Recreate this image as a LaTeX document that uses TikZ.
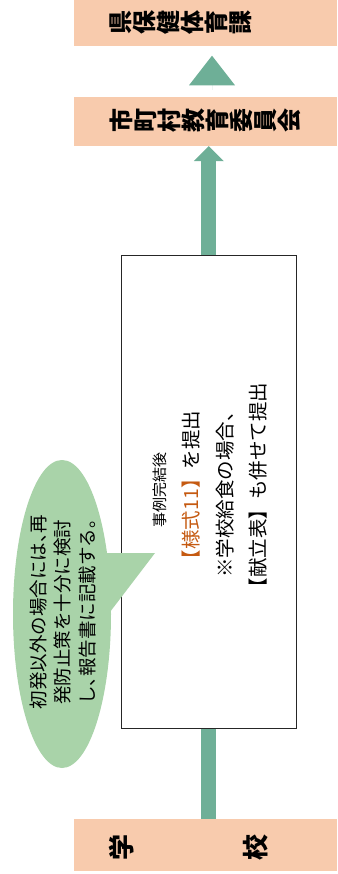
\documentclass[tikz,border=0pt]{standalone}
\usepackage{fontspec}
\setmainfont{Noto Sans CJK JP}
\usetikzlibrary{arrows.meta,shapes.geometric}
\definecolor{peach}{HTML}{F8CBAD}
\definecolor{arrowgreen}{HTML}{6EAF97}
\definecolor{balloongreen}{HTML}{A9D3A9}
\definecolor{formorange}{HTML}{C55A11}
\newcommand{\halfpunct}[1]{{\addfontfeature{RawFeature=+halt}#1}}
\begin{document}
\begin{tikzpicture}[x=1pt,y=-1pt,
  pbox/.style={fill=peach, draw=none, minimum width=263pt, inner sep=0pt, anchor=north west},
  boxtext/.style={rotate=90, align=center, inner sep=0pt, font=\bfseries\fontsize{24pt}{24pt}\selectfont},
  schooltext/.style={rotate=90, inner sep=0pt, font=\bfseries\fontsize{26pt}{26pt}\selectfont},
  rtext/.style={rotate=90, inner sep=0pt, font=\fontsize{19.5pt}{19.5pt}\selectfont},
  conn/.style={draw=arrowgreen, line width=15pt},
  ]
\useasboundingbox (0,0) rectangle (337,874);

% boxes
\node[pbox, minimum height=45.7pt] (pref) at (74,0) {};
\node[pbox, minimum height=48.7pt] (city) at (74,97) {};
\node[pbox, minimum height=52pt] (school) at (74,819) {};

\node[boxtext] (preftxt) at (181,22.8) {県\\保\\健\\体\\育\\課};
\node[boxtext] (citytxt) at (205,121) {市\\町\\村\\教\\育\\委\\員\\会};
\node[schooltext] (gaku) at (122,847) {学};
\node[schooltext] (kou) at (256,847) {校};

% report box
\node[draw=black!85, line width=1.2pt, fill=white, minimum width=175pt, minimum height=473pt,
      anchor=north west, inner sep=0pt] (report) at (120.7,255) {};
\node[rtext, font=\fontsize{15pt}{15pt}\selectfont] (l1) at (160,490) {事例完結後};
\node[rtext] (l2) at (191,490) {\textcolor{formorange}{【様式11】}を提出};
\node[rtext] (l3) at (225,490) {※学校給食の場合、};
\node[rtext] (l4) at (258,490) {【献立表】も併せて提出};

% connectors
\draw[conn] (school.north -| report.south) -- (report.south);
\draw[conn, -{Triangle[width=30pt,length=15pt,line width=0pt]}] (report.north) -- (report.north |- city.south);
\coordinate (tb) at (212,90);
\coordinate (tt) at (212,55.7);
\draw[arrowgreen, line width=0.01pt, -{Triangle[width=46pt,length=29.6pt,line width=0pt]}] (tb) -- (tt);

% balloon
\node[ellipse, fill=balloongreen, minimum width=98pt, minimum height=308pt, inner sep=0pt] (balloon) at (62,614) {};
\coordinate (tip) at (155,553);
\fill[balloongreen] (100,553) -- (tip) -- (110,612) -- (100,612) -- cycle;
\node[rotate=90, align=center, inner sep=0pt, font=\fontsize{18.5pt}{24.5pt}\selectfont] (btxt) at (63,612)
  {初発以外の場合には\halfpunct{、}再\\発防止策を十分に検討\\し\halfpunct{、}報告書に記載する\halfpunct{。}};
\end{tikzpicture}
\end{document}
